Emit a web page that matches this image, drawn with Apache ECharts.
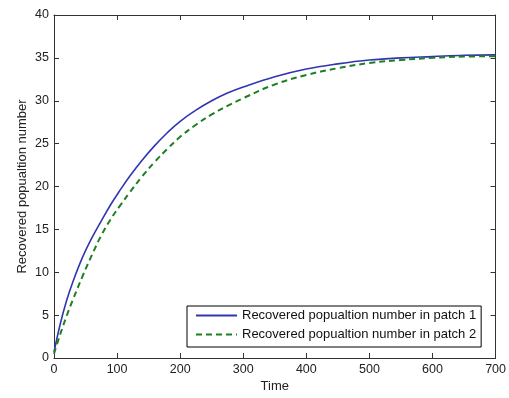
<!DOCTYPE html>
<html>
<head>
<meta charset="utf-8">
<script src="https://cdn.jsdelivr.net/npm/echarts@6/dist/echarts.min.js"></script>
<style>
html,body{margin:0;padding:0;background:#fff;}
#chart{width:509px;height:398px;}
</style>
</head>
<body>
<div id="chart"></div>
<script>
const time = [0,10,20,30,45,60,75,90,105,120,140,160,180,200,225,250,275,300,350,400,450,500,550,600,650,700];
const patch1 = [0.7,4.0,6.7,8.9,11.7,14.0,16.0,17.9,19.6,21.2,23.1,24.8,26.3,27.6,28.9,30.0,30.9,31.6,32.8,33.7,34.3,34.75,35.0,35.15,35.3,35.35];
const patch2 = [0.5,2.8,4.9,6.8,9.5,12.0,14.3,16.2,17.8,19.3,21.2,22.9,24.4,25.8,27.2,28.4,29.4,30.3,31.9,33.0,33.8,34.4,34.75,35.0,35.15,35.2];
const xTicks = [0,100,200,300,400,500,600,700];
const yTicks = [0,5,10,15,20,25,30,35,40];
const names = ['Recovered popualtion number in patch 1','Recovered popualtion number in patch 2'];
const xName = 'Time';
const yName = 'Recovered popualtion number';

const font = 'Liberation Sans, Arial, sans-serif';
const axisCol = '#333';

function pairs(xs, ys){ return xs.map((x,i)=>[x, ys[i]]); }

const tick = {show:true, inside:true, length:5, lineStyle:{color:axisCol}};
const line = {show:true, onZero:false, lineStyle:{color:axisCol, width:1}};

const chart = echarts.init(document.getElementById('chart'), null, {renderer:'canvas'});
chart.setOption({
  animation:false,
  backgroundColor:'#fff',
  grid:{left:54, top:15, width:443, height:346, containLabel:false},
  xAxis:[{
    type:'value', min:xTicks[0], max:xTicks[xTicks.length-1], interval:100,
    name:xName, nameLocation:'middle', nameGap:22, nameMoveOverlap:false,
    nameTextStyle:{fontFamily:font, fontSize:13, color:'#222'},
    axisLine:line, axisTick:tick,
    axisLabel:{fontFamily:font, fontSize:12.5, color:'#222', margin:5},
    splitLine:{show:false}
  },{
    type:'value', position:'top', min:0, max:700, interval:100,
    axisLine:line, axisTick:tick,
    axisLabel:{show:false}, splitLine:{show:false}
  }],
  yAxis:[{
    type:'value', min:yTicks[0], max:yTicks[yTicks.length-1], interval:5,
    name:yName, nameLocation:'middle', nameGap:25, nameMoveOverlap:false,
    nameTextStyle:{fontFamily:font, fontSize:13, color:'#222'},
    axisLine:line, axisTick:tick,
    axisLabel:{fontFamily:font, fontSize:12.5, color:'#222', margin:5},
    splitLine:{show:false}
  },{
    type:'value', position:'right', min:0, max:40, interval:5,
    axisLine:line, axisTick:tick,
    axisLabel:{show:false}, splitLine:{show:false}
  }],
  legend:{
    orient:'vertical', left:187, top:306,
    padding:[3,5,6,8], itemGap:6, itemWidth:41, itemHeight:14,
    backgroundColor:'#fff', borderColor:'#000', borderWidth:1, borderRadius:0,
    itemStyle:{opacity:0},
    textStyle:{fontFamily:font, fontSize:13, color:'#111'},
    data:names
  },
  series:[{
    name:names[0], type:'line', data:pairs(time, patch1),
    smooth:0.4, symbol:'none', xAxisIndex:0, yAxisIndex:0,
    lineStyle:{color:'#3036b0', width:1.6}, itemStyle:{color:'#3036b0'}
  },{
    name:names[1], type:'line', data:pairs(time, patch2),
    smooth:0.4, symbol:'none', xAxisIndex:0, yAxisIndex:0,
    lineStyle:{color:'#1f7f23', width:2, type:[6,4]}, itemStyle:{color:'#1f7f23'}
  }]
});
</script>
</body>
</html>
